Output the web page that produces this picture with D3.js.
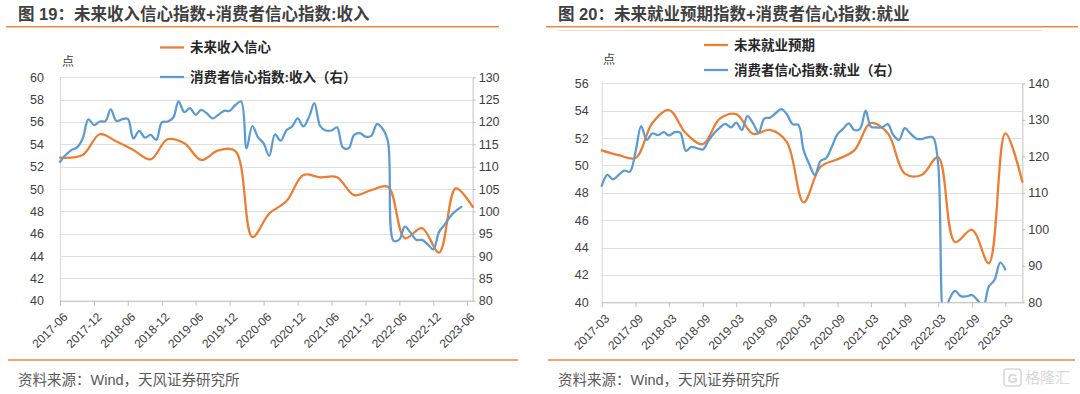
<!DOCTYPE html>
<html>
<head>
<meta charset="utf-8">
<script src="https://cdn.jsdelivr.net/npm/d3@7"></script>
<style>
  body { margin: 0; background: #fff; }
  svg { display: block; }
  text { font-family: "Liberation Sans", Arial, "Noto Sans CJK SC", sans-serif; }
</style>
</head>
<body>
<svg id="chart" width="1080" height="394"></svg>
<script>
// ---- 图19 data ----
// 未来收入信心 (quarterly survey, left axis)
var incomeConfDates = ["2017-06","2017-10","2018-01","2018-04","2018-07","2018-10","2019-01","2019-04",
  "2019-07","2019-10","2020-01","2020-04","2020-07","2020-10","2021-01","2021-04","2021-07","2021-10",
  "2022-01","2022-04","2022-07","2022-10","2023-01","2023-04","2023-07"];
var incomeConf = [52.8,53.05,54.9,54.25,53.5,52.65,54.45,54.1,52.6,53.45,53.4,45.7,47.8,48.9,51.25,
  51.05,51.05,49.45,49.9,50.2,45.6,46.5,44.3,50.05,48.4];
// 消费者信心指数:收入 (monthly from 2017-06, right axis)
var ccIncomeStart = "2017-06";
var ccIncome = [111.1,112.6,113.7,114.3,116.3,120.6,119.3,120.1,120.2,122.8,
  120.2,120.6,120.7,116.3,118.0,116.5,117.1,116.0,119.9,120.1,
  121.0,124.6,122.2,123.1,121.6,122.7,121.9,120.8,121.6,122.5,
  122.5,123.8,124.6,114.1,119.1,116.6,115.2,112.4,117.2,115.8,
  118.1,119.0,120.8,119.0,121.2,124.2,119.1,118.1,118.1,118.8,
  114.3,114.1,117.1,117.5,116.7,116.9,119.5,118.6,115.6,93.4,
  93.7,96.6,95.2,93.6,93.6,92.6,91.5,95.4,97.1,98.8,
  100.1,101.0];
var fig19LeftTicks = [40,42,44,46,48,50,52,54,56,58,60];
var fig19RightTicks = [80,85,90,95,100,105,110,115,120,125,130];

// ---- 图20 data ----
// 未来就业预期 (quarterly from 2017-03, left axis)
var jobExpStart = "2017-03";
var jobExp = [51.1,50.75,50.55,53.1,54.05,52.35,51.55,53.4,53.75,52.3,52.6,51.7,47.3,49.9,50.45,
  51.1,53.1,52.35,49.4,49.3,50.6,44.4,45.3,42.85,52.35,48.8];
// 消费者信心指数:就业 (monthly from 2017-03, right axis)
var ccJobStart = "2017-03";
var ccJob = [111.9,114.9,113.7,114.9,116.1,115.8,121.3,128.3,124.5,126.3,
  125.8,126.6,125.7,126.6,126.5,121.5,122.6,122.2,121.9,124.2,
  126.3,127.8,128.9,127.9,129.2,127.2,131.0,129.0,126.5,130.4,
  130.6,131.8,132.9,131.5,128.8,128.6,121.7,117.8,114.9,118.7,
  119.5,122.6,126.1,127.5,129.0,127.2,127.5,132.5,128.1,127.9,
  127.9,128.8,125.8,124.5,127.7,126.3,124.9,124.7,125.2,125.2,
  118.0,76.0,80.8,83.1,81.7,81.6,82.0,80.6,78.8,84.3,
  86.1,90.9,89.0];
var fig20LeftTicks = [40,42,44,46,48,50,52,54,56];
var fig20RightTicks = [80,90,100,110,120,130,140];

var ORANGE = "#ED7D31", BLUE = "#5B9BD5";
var parseM = d3.timeParse("%Y-%m");
function monthly(start, n) {
  var s = parseM(start);
  return d3.range(n).map(function(i) { return d3.timeMonth.offset(s, i); });
}
function quarterly(start, n) {
  var s = parseM(start);
  return d3.range(n).map(function(i) { return d3.timeMonth.offset(s, i * 3); });
}

var svg = d3.select("#chart");
svg.append("rect").attr("width", 1080).attr("height", 394).attr("fill", "#fff");

function drawPanel(cfg) {
  var p = cfg.plot;
  var g = svg.append("g");
  var start = parseM(cfg.xStart);
  var x = d3.scaleTime()
    .domain([start, d3.timeMonth.offset(start, cfg.xMonths)])
    .range([p.l, p.r]);
  var yL = d3.scaleLinear().domain(d3.extent(cfg.ticksL)).range([p.b, p.t]);
  var yR = d3.scaleLinear().domain(d3.extent(cfg.ticksR)).range([p.b, p.t]);

  // title + rules
  g.append("text").attr("x", cfg.titleX).attr("y", 14).attr("dy", "0.35em")
    .attr("font-size", "16.5px").attr("font-weight", "bold").attr("fill", "#404040")
    .text(cfg.title);
  g.append("line").attr("x1", cfg.rule[0]).attr("x2", cfg.rule[1])
    .attr("y1", 26.7).attr("y2", 26.7).attr("stroke", "#F0883A").attr("stroke-width", 1.5);
  if (cfg.subRule) {
    g.append("line").attr("x1", cfg.subRule[0]).attr("x2", cfg.subRule[1])
      .attr("y1", 30.5).attr("y2", 30.5).attr("stroke", "#e3e3e3").attr("stroke-width", 1);
  }
  g.append("line").attr("x1", cfg.bottomRule[0]).attr("x2", cfg.bottomRule[1])
    .attr("y1", 360).attr("y2", 360).attr("stroke", "#F0883A").attr("stroke-width", 1.5);
  g.append("text").attr("x", cfg.titleX).attr("y", 380).attr("dy", "0.35em")
    .attr("font-size", "14.5px").attr("fill", "#595959")
    .text("资料来源：Wind，天风证券研究所");

  // gridlines
  g.append("g").selectAll("line").data(cfg.ticksL).enter().append("line")
    .attr("x1", p.l).attr("x2", p.r)
    .attr("y1", function(d) { return Math.round(yL(d)) + 0.5; })
    .attr("y2", function(d) { return Math.round(yL(d)) + 0.5; })
    .attr("stroke", "#e0e0e0").attr("stroke-width", 1);

  // left axis
  var axL = g.append("g").attr("transform", "translate(" + p.l + ",0)")
    .call(d3.axisLeft(yL).tickValues(cfg.ticksL).tickSize(0).tickPadding(cfg.padL));
  axL.select(".domain").attr("stroke", "#d9d9d9");
  axL.selectAll("text").attr("font-size", "12.5px").attr("fill", "#404040");

  // right axis
  var axR = g.append("g").attr("transform", "translate(" + p.r + ",0)")
    .call(d3.axisRight(yR).tickValues(cfg.ticksR).tickSize(3).tickSizeOuter(0).tickPadding(3));
  axR.select(".domain").attr("stroke", "#bfbfbf");
  axR.selectAll("line").attr("stroke", "#bfbfbf");
  axR.selectAll("text").attr("font-size", "12.5px").attr("fill", "#404040");

  // bottom axis
  var tickVals = d3.range(0, cfg.xMonths, 6).map(function(k) { return d3.timeMonth.offset(start, k); });
  var axB = g.append("g").attr("transform", "translate(0," + p.b + ")")
    .call(d3.axisBottom(x).tickValues(tickVals).tickFormat(d3.timeFormat("%Y-%m"))
      .tickSize(5).tickSizeOuter(0));
  axB.select(".domain").attr("stroke", "#bfbfbf");
  axB.selectAll("line").attr("stroke", "#bfbfbf");
  axB.selectAll("text")
    .attr("font-size", "12px").attr("fill", "#404040")
    .attr("text-anchor", "end").attr("x", 0).attr("y", 0).attr("dy", "0.35em")
    .attr("transform", "translate(5,14) rotate(-45)");

  // unit label
  g.append("text").attr("x", cfg.unitX).attr("y", cfg.unitY).attr("dy", "0.35em")
    .attr("font-size", "12px").attr("fill", "#404040").text("点");

  // series
  var clipId = "clip" + cfg.id;
  svg.append("clipPath").attr("id", clipId).append("rect")
    .attr("x", p.l - 2).attr("y", p.t - 4).attr("width", p.r - p.l + 4).attr("height", p.b - p.t + 4);
  var sg = g.append("g").attr("clip-path", "url(#" + clipId + ")");
  cfg.series.forEach(function(s) {
    var y = s.axis === "L" ? yL : yR;
    var pts = s.dates.map(function(d, i) { return [x(d), y(s.values[i])]; });
    sg.append("path").attr("d", d3.line().curve(d3.curveCatmullRom.alpha(0.5))(pts))
      .attr("fill", "none").attr("stroke", s.color).attr("stroke-width", 2.25)
      .attr("stroke-linejoin", "round").attr("stroke-linecap", "round");
  });

  // legend
  cfg.legend.forEach(function(l) {
    g.append("line").attr("x1", cfg.legendX).attr("x2", cfg.legendX + 24)
      .attr("y1", l.y).attr("y2", l.y).attr("stroke", l.color).attr("stroke-width", 2.25);
    g.append("text").attr("x", cfg.legendX + 30).attr("y", l.y).attr("dy", "0.35em")
      .attr("font-size", "13.5px").attr("font-weight", "bold").attr("fill", "#262626")
      .text(l.label);
  });
}

drawPanel({
  id: 19,
  title: "图 19：未来收入信心指数+消费者信心指数:收入",
  titleX: 18,
  rule: [6, 499], bottomRule: [8, 518],
  plot: { l: 60, r: 472.7, t: 77.3, b: 300.7 },
  xStart: "2017-06", xMonths: 73,
  ticksL: fig19LeftTicks, ticksR: fig19RightTicks, padL: 16,
  unitX: 62, unitY: 62,
  legendX: 160,
  legend: [
    { label: "未来收入信心", color: ORANGE, y: 47.5 },
    { label: "消费者信心指数:收入（右）", color: BLUE, y: 77 }
  ],
  series: [
    { dates: incomeConfDates.map(parseM), values: incomeConf, axis: "L", color: ORANGE },
    { dates: monthly(ccIncomeStart, ccIncome.length), values: ccIncome, axis: "R", color: BLUE }
  ]
});

drawPanel({
  id: 20,
  title: "图 20：未来就业预期指数+消费者信心指数:就业",
  titleX: 558,
  rule: [546, 1078], subRule: [558, 1043], bottomRule: [548, 1075],
  plot: { l: 601.7, r: 1022.3, t: 83.3, b: 302.3 },
  xStart: "2017-03", xMonths: 75,
  ticksL: fig20LeftTicks, ticksR: fig20RightTicks, padL: 13,
  unitX: 603, unitY: 60,
  legendX: 704,
  legend: [
    { label: "未来就业预期", color: ORANGE, y: 45 },
    { label: "消费者信心指数:就业（右）", color: BLUE, y: 70 }
  ],
  series: [
    { dates: quarterly(jobExpStart, jobExp.length), values: jobExp, axis: "L", color: ORANGE },
    { dates: monthly(ccJobStart, ccJob.length), values: ccJob, axis: "R", color: BLUE }
  ]
});

// watermark
var wm = svg.append("g").attr("opacity", 0.55);
wm.append("rect").attr("x", 1004).attr("y", 369).attr("width", 17).attr("height", 17)
  .attr("rx", 3).attr("fill", "none").attr("stroke", "#b8b8b8").attr("stroke-width", 1.5);
wm.append("text").attr("x", 1012.5).attr("y", 378).attr("dy", "0.36em").attr("text-anchor", "middle")
  .attr("font-size", "13px").attr("font-weight", "bold").attr("fill", "#b8b8b8").text("G");
wm.append("text").attr("x", 1025).attr("y", 378).attr("dy", "0.36em")
  .attr("font-size", "15px").attr("fill", "#b8b8b8").text("格隆汇");
</script>
</body>
</html>
